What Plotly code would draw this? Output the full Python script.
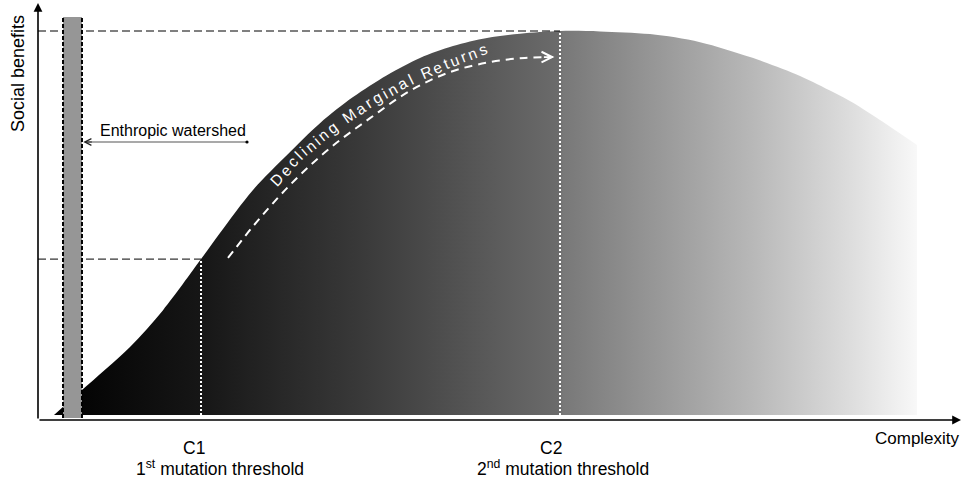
import math
import plotly.graph_objects as go

# ---------------- data (complexity 0-100, social benefits 0-100 at the peak) ----------------
complexity = [1.74, 4.78, 10.0, 13.59, 17.72, 19.78, 23.37, 27.07, 30.65, 34.24, 37.93, 41.52,
              45.11, 48.80, 52.39, 56.74, 61.09, 66.52, 71.96, 77.39, 82.83, 86.41, 88.59, 91.52, 95.54]
benefits = [0.0, 6.5, 17.7, 27.3, 40.6, 47.4, 58.6, 67.7, 76.0, 82.8, 88.5, 93.0,
            96.1, 98.2, 99.3, 100.0, 99.9, 99.2, 97.1, 93.2, 88.3, 84.1, 81.3, 76.8, 70.3]

threshold_names = ["C1", "C2"]
threshold_labels = ["1<sup>st</sup> mutation threshold", "2<sup>nd</sup> mutation threshold"]
threshold_x = [17.72, 56.74]
threshold_y = [40.6, 100.0]

watershed_x = [2.72, 4.78]
watershed_label = "Enthropic watershed"

trend_x = [20.65, 24.13, 27.93, 31.74, 36.09, 40.43, 44.78, 49.13, 52.93, 55.98]
trend_y = [40.9, 51.3, 61.2, 69.5, 77.3, 84.4, 89.3, 91.9, 93.0, 93.2]
trend_label = "Declining Marginal Returns"
trend_label_x = [25.98, 28.48, 32.07, 36.09, 40.43, 44.78, 48.37]
trend_label_y = [61.4, 67.9, 74.9, 81.5, 87.4, 91.9, 95.2]

x_title = "Complexity"
y_title = "Social benefits"

# ---------------- geometry helpers (page pixels) ----------------
PAGE_W, PAGE_H = 962, 480
OX, OY = 38, 415          # page pixel of data origin
SX, SY = 9.2, 3.84        # pixels per data unit


def px(x):
    return OX + x * SX


def py(y):
    return OY - y * SY


def dx(p):
    return (p - OX) / SX


def dy(p):
    return (OY - p) / SY


XR = [dx(0), dx(PAGE_W)]
YR = [dy(PAGE_H), dy(0)]

FONT = "Liberation Sans, Arial, sans-serif"

fig = go.Figure()

# gradient filled curve
fig.add_trace(go.Scatter(
    x=complexity, y=benefits, mode="lines",
    line=dict(shape="spline", smoothing=0.9, width=0, color="rgba(0,0,0,0)"),
    fill="tozeroy",
    fillgradient=dict(type="horizontal", colorscale=[
        [0.0, "#000000"], [0.17, "#161616"], [0.36, "#3a3a3a"], [0.46, "#505050"],
        [0.584, "#6b6b6b"], [0.59, "#787878"], [0.81, "#b8b8b8"], [0.92, "#dcdcdc"], [1.0, "#f8f8f8"]]),
    hoverinfo="skip", showlegend=False))

# white dashed trend arrow
fig.add_trace(go.Scatter(
    x=trend_x, y=trend_y, mode="lines",
    line=dict(shape="spline", color="white", width=2, dash="8px,6px"),
    hoverinfo="skip", showlegend=False))

shapes = []
ann = []

# horizontal dashed guides and white dotted verticals at thresholds
for tx, ty in zip(threshold_x, threshold_y):
    shapes.append(dict(type="line", x0=0, x1=tx, y0=ty, y1=ty, xref="x", yref="y",
                       line=dict(color="black", width=1, dash="8px,4px"), layer="above"))
    shapes.append(dict(type="line", x0=tx, x1=tx, y0=0, y1=ty, xref="x", yref="y",
                       line=dict(color="white", width=2, dash="2px,2px"), layer="above"))

# watershed bar
shapes.append(dict(type="rect", x0=watershed_x[0], x1=watershed_x[1], y0=dy(418), y1=dy(17),
                   fillcolor="#969696", line=dict(width=0), layer="above"))
for wx in watershed_x:
    shapes.append(dict(type="line", x0=wx, x1=wx, y0=dy(418), y1=dy(17),
                       line=dict(color="black", width=2, dash="4px,2px"), layer="above"))

# watershed pointer
ptr_y = dy(142)
shapes.append(dict(type="line", x0=watershed_x[1] + 0.3, x1=dx(247), y0=ptr_y, y1=ptr_y,
                   line=dict(color="#8c8c8c", width=1.5), layer="above"))
shapes.append(dict(type="circle", xsizemode="pixel", ysizemode="pixel", xanchor=dx(247), yanchor=ptr_y,
                   x0=-1.6, x1=1.6, y0=-1.6, y1=1.6, fillcolor="black", line=dict(width=0), layer="above"))
ann.append(dict(x=watershed_x[1] + 0.15, y=ptr_y, ax=10, ay=0, xref="x", yref="y", text="",
                showarrow=True, arrowhead=5, arrowwidth=1, arrowsize=1.3, arrowcolor="#222"))
ann.append(dict(x=dx(173), y=dy(130), text=watershed_label, showarrow=False,
                font=dict(family=FONT, size=16, color="black")))

# axes with arrows
ann.append(dict(x=0, y=dy(3), ax=0, ay=dy(420), xref="x", yref="y", axref="x", ayref="y", text="",
                showarrow=True, arrowhead=2, arrowwidth=1.6, arrowsize=1.1, arrowcolor="black"))
ann.append(dict(x=dx(961), y=dy(420), ax=0, ay=dy(420), xref="x", yref="y", axref="x", ayref="y", text="",
                showarrow=True, arrowhead=2, arrowwidth=1.6, arrowsize=1.1, arrowcolor="black"))
ann.append(dict(x=dx(917), y=dy(438), text=x_title, showarrow=False,
                font=dict(family=FONT, size=17, color="black")))
ann.append(dict(x=dx(18), y=dy(74), text=y_title, showarrow=False, textangle=-90,
                font=dict(family=FONT, size=18, color="black")))

# threshold labels
name_px = [194, 551]
label_px = [220, 563]
for nm, lb, npx, lpx in zip(threshold_names, threshold_labels, name_px, label_px):
    ann.append(dict(x=dx(npx), y=dy(448), text=nm, showarrow=False,
                    font=dict(family=FONT, size=17.5, color="black")))
    ann.append(dict(x=dx(lpx), y=dy(468), text=lb, showarrow=False,
                    font=dict(family=FONT, size=17.5, color="black")))

# trend arrow head
ann.append(dict(x=trend_x[-1] + 0.15, y=trend_y[-1], ax=-12, ay=0, xref="x", yref="y", text="",
                showarrow=True, arrowhead=5, arrowwidth=1.6, arrowsize=1.3, arrowcolor="white"))

# curved label along the slope
pts = [(px(x), py(y)) for x, y in zip(trend_label_x, trend_label_y)]
cum = [0.0]
for i in range(1, len(pts)):
    cum.append(cum[-1] + math.hypot(pts[i][0] - pts[i - 1][0], pts[i][1] - pts[i - 1][1]))


def point_at(s):
    if s <= 0:
        i = 1
    elif s >= cum[-1]:
        i = len(pts) - 1
    else:
        i = next(k for k in range(1, len(pts)) if cum[k] >= s)
    (x0, y0), (x1, y1) = pts[i - 1], pts[i]
    seg = cum[i] - cum[i - 1]
    t = (s - cum[i - 1]) / seg
    return x0 + (x1 - x0) * t, y0 + (y1 - y0) * t


CW = {'D': .722, 'e': .556, 'c': .5, 'l': .222, 'i': .222, 'n': .556, 'g': .556, ' ': .278,
      'M': .833, 'a': .556, 'r': .333, 'R': .722, 't': .278, 'u': .556, 's': .5}
fs, ls = 15.5, 2.8
widths = [CW.get(c, .55) * fs for c in trend_label]
span = sum(widths) - widths[0] / 2 - widths[-1] / 2 + ls * (len(trend_label) - 1)
s = cum[-1] / 2 - span / 2 - widths[0] / 2
for c, w in zip(trend_label, widths):
    center = s + w / 2
    cx, cy = point_at(center)
    ax_, ay_ = point_at(center - 6)
    bx_, by_ = point_at(center + 6)
    ang = math.degrees(math.atan2(by_ - ay_, bx_ - ax_))
    if c != ' ':
        ann.append(dict(x=dx(cx), y=dy(cy), text=c, showarrow=False, textangle=ang,
                        font=dict(family=FONT, size=fs, color="white")))
    s += w + ls

fig.update_layout(
    width=PAGE_W, height=PAGE_H, margin=dict(l=0, r=0, t=0, b=0),
    paper_bgcolor="white", plot_bgcolor="white", showlegend=False,
    xaxis=dict(range=XR, visible=False, fixedrange=True),
    yaxis=dict(range=YR, visible=False, fixedrange=True),
    shapes=shapes, annotations=ann,
)

fig.write_html("out.html", config={"displayModeBar": False},
               post_script="document.body.style.margin='0';document.body.style.overflow='hidden';")
